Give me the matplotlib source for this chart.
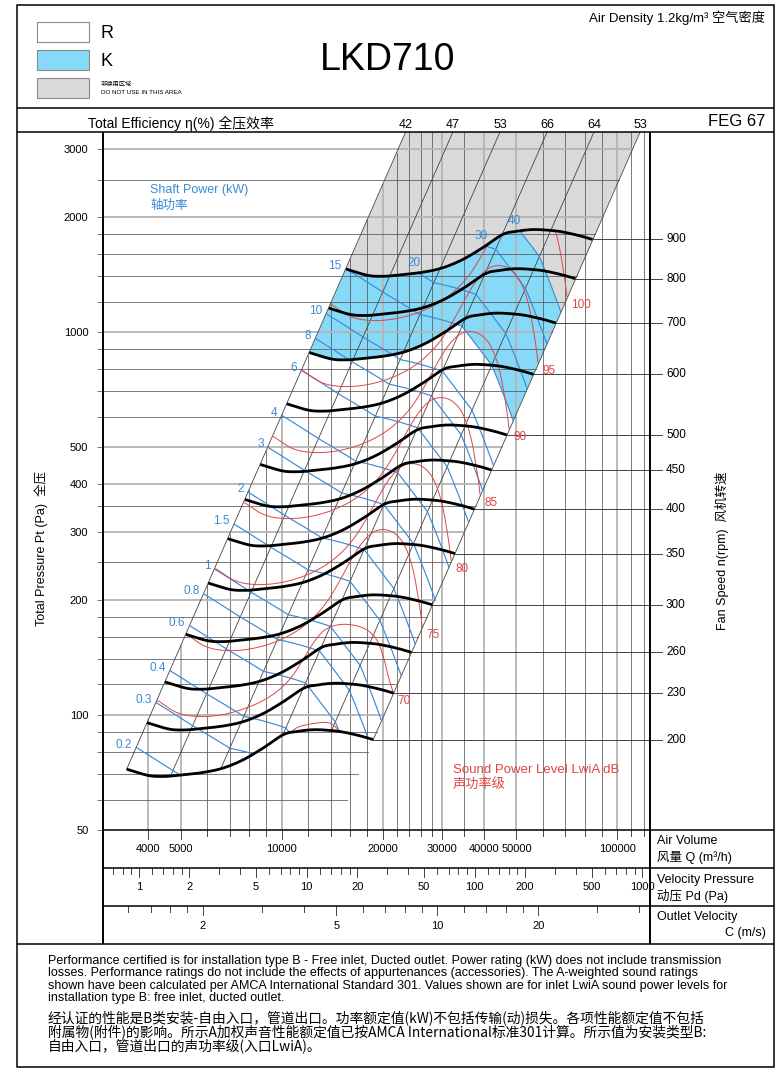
import numpy as np
import matplotlib.pyplot as plt
from matplotlib.patches import Rectangle, Polygon

plt.rcParams['font.family'] = ['Liberation Sans', 'Noto Sans CJK SC']

W, H = 776, 1072

# fan curve at 200 rpm: air volume (m3/h) and total pressure (Pa)
base_rpm = 200
base_q = [3451, 4003, 4436, 4863, 5837, 6694, 7681, 8808, 10100, 11080, 12410, 13920, 15250, 17100, 18730]
base_p = [72.1, 69.4, 69.0, 69.4, 70.7, 72.6, 76.3, 81.9, 88.7, 90.4, 91.4, 91.0, 90.1, 88.1, 86.1]
rpm_values = [200, 230, 260, 300, 350, 400, 450, 500, 600, 700, 800, 900]

# efficiency lines: air volume where each crosses 3000 Pa, and the efficiency (%)
eff_q3000 = [22200, 30700, 42400, 58600, 80800, 110900]
eff_values = [42, 47, 53, 66, 64, 53]

power_kw = [0.2, 0.3, 0.4, 0.6, 0.8, 1, 1.5, 2, 3, 4, 6, 8, 10, 15, 20, 30, 40]

# sound power contours (dB): 75 dB as read, higher levels follow the fan laws
sound_db = [75, 80, 85, 90, 95, 100]
sound75_q = [5171, 5930, 6805, 7982, 9367, 10741, 12045, 13354, 14597, 15854, 17085, 18427,
             19744, 21292, 22792, 23914, 24756, 25439, 25878, 26195]
sound75_p = [162.7, 150.8, 147.2, 148.4, 153.9, 162.7, 174.9, 192.6, 217.3, 247.9, 276.2, 297.0,
             304.3, 300.6, 284.6, 260.3, 233.5, 204.5, 185.8, 170.0]
db_per_decade = 58
# lower contours read on their own
sound70_q = [4240, 4863, 5580, 6545, 7681, 8808, 9877, 10820, 11720, 12560, 13450, 14730,
             16330, 17900, 19170, 20060, 20760, 21480]
sound70_p = [109.4, 101.4, 99.0, 99.8, 103.5, 109.0, 116.7, 127.2, 142.0, 156.1, 166.7, 171.8,
             171.5, 166.7, 157.0, 142.0, 125.9, 114.3]
sound65_q = [10579, 11330, 12700, 13920, 14910]
sound65_p = [90.0, 93.2, 95.1, 95.1, 90.4]

# class limits (rpm, kW)
r_limit = (700, 15)
k_limit = (900, 40)

p_grid = [60, 70, 80, 90, 100, 120, 140, 160, 180, 200, 250, 300, 350, 400, 500, 600, 700,
          800, 900, 1000, 1200, 1400, 1600, 1800, 2000, 2500, 3000]
p_labels = [50, 100, 200, 300, 400, 500, 1000, 2000, 3000]
q_grid = [4000, 5000, 6000, 7000, 8000, 9000, 10000, 12000, 14000, 16000, 18000, 20000, 22000,
          24000, 26000, 28000, 30000, 35000, 40000, 50000, 60000, 70000, 80000, 90000, 100000,
          110000, 120000]
q_labels = [4000, 5000, 10000, 20000, 30000, 40000, 50000, 100000]
pd_ticks = [0.7, 0.8, 0.9, 1, 1.2, 1.4, 1.6, 1.8, 2, 3, 4, 5, 6, 7, 8, 9, 10, 12, 14, 16, 18, 20,
            30, 40, 50, 60, 70, 80, 90, 100, 120, 140, 160, 180, 200, 300, 400, 500, 600, 700,
            800, 900, 1000]
pd_labels = [1, 2, 5, 10, 20, 50, 100, 200, 500, 1000]
c_ticks = [1.2, 1.4, 1.6, 1.8, 2, 3, 4, 5, 6, 7, 8, 9, 10, 12, 14, 16, 18, 20, 30, 40]
c_labels = [2, 5, 10, 20]
outlet_area = 0.807   # m2
air_density = 1.2

q_lim = (2934, 124980)
p_lim = (50, 3328)

BLUE = '#3a8ad6'
RED = '#e04545'
FILL_K = '#86daf8'
FILL_X = '#d9d9d9'


def frac(l, t, r, b):
    return [l / W, 1 - b / H, (r - l) / W, (b - t) / H]


def smooth(x, y, per=16):
    # Catmull-Rom through the read points
    pts = np.column_stack([x, y])
    ext = np.vstack([2 * pts[0] - pts[1], pts, 2 * pts[-1] - pts[-2]])
    t = np.linspace(0, 1, per, endpoint=False)[:, None]
    out = []
    for i in range(1, len(ext) - 2):
        a, b, c, d = ext[i - 1], ext[i], ext[i + 1], ext[i + 2]
        out.append(0.5 * (2 * b + (c - a) * t + (2 * a - 5 * b + 4 * c - d) * t ** 2
                          + (3 * b - a - 3 * c + d) * t ** 3))
    out.append(pts[-1:])
    return np.vstack(out)


lq, lp = smooth(np.log10(base_q), np.log10(base_p)).T
q0, p0 = 10 ** lq, 10 ** lp
logk = lp - 2 * lq
s = np.arange(len(lq), dtype=float)

eff_logk = np.log10(3000) - 2 * np.log10(eff_q3000)
eta = np.interp(-logk, -eff_logk, eff_values) / 100
w0 = q0 / 3600 * p0 / eta / 1000      # shaft power at 200 rpm, kW


def on_curve(n, qq=q0, pp=p0):
    r = np.asarray(n) / base_rpm
    return qq * r, pp * r ** 2


def speed_for_power(w):
    return base_rpm * (w / w0) ** (1 / 3)


def to_base(cq, cp):
    # for points of a contour: matching point of the 200 rpm curve and the speed
    lqc, lpc = smooth(np.log10(cq), np.log10(cp), per=10).T
    sc = np.interp(-(lpc - 2 * lqc), -logk, s)
    qb = 10 ** np.interp(sc, s, lq)
    return qb, 10 ** np.interp(sc, s, lp), base_rpm * 10 ** lqc / qb


fig = plt.figure(figsize=(W / 100, H / 100), dpi=100)

ax = fig.add_axes(frac(103, 132, 650, 830))
ax.set_xscale('log')
ax.set_yscale('log')
ax.set_xlim(*q_lim)
ax.set_ylim(*p_lim)
ax.patch.set_alpha(0)
for sp in ax.spines.values():
    sp.set_visible(False)
ax.set_xticks([])
ax.set_xticks([], minor=True)
yt = [50] + p_grid
ax.set_yticks(yt, labels=[str(v) if v in p_labels else '' for v in yt])
ax.set_yticks([], minor=True)
ax.tick_params(axis='y', length=4.5, width=0.7, color='#777', pad=6, labelsize=8)

# class regions
n_min, n_max = rpm_values[0], rpm_values[-1]
n_k = np.minimum(k_limit[0], speed_for_power(k_limit[1]))
n_r = np.minimum(r_limit[0], speed_for_power(r_limit[1]))
n_sky = base_rpm * np.sqrt(p_lim[1] * 1.5 / p0)
pk = np.column_stack(on_curve(n_k))
pr = np.column_stack(on_curve(n_r))
psky = np.column_stack(on_curve(n_sky))
ax.add_patch(Polygon(np.vstack([pr, pk[::-1]]), closed=True, fc=FILL_K, ec='none', zorder=1))
ax.add_patch(Polygon(np.vstack([pk, psky[::-1]]), closed=True, fc=FILL_X, ec='none', zorder=1))

# grid
k_left = p0[0] / q0[0] ** 2
k_right = p0[-1] / q0[-1] ** 2
for q in q_grid:
    top = min(p_lim[1], k_left * q ** 2)
    if q in q_labels:
        ax.plot([q, q], [p_lim[0], top], color='#b4b4b4', lw=1.3, zorder=2)
    else:
        ax.plot([q, q], [p_lim[0], top], color='#555', lw=0.55, zorder=2)
for p in p_grid:
    right = min(q_lim[1], np.sqrt(p / k_right))
    if p in p_labels:
        ax.plot([q_lim[0], right], [p, p], color='#b4b4b4', lw=1.3, zorder=2)
    else:
        ax.plot([q_lim[0], right], [p, p], color='#555', lw=0.55, zorder=2)

# efficiency lines
for ek, ev in zip(eff_logk, eff_values):
    si = np.interp(-ek, -logk, s)
    qb, pb = 10 ** np.interp(si, s, lq), 10 ** np.interp(si, s, lp)
    qt = np.sqrt(p_lim[1] / 10 ** ek)
    ax.plot([qb, qt], [pb, p_lim[1]], color='#444', lw=0.6, zorder=3)
    ax.text(qt, 1.0105, str(ev), transform=ax.get_xaxis_transform(), ha='center',
            va='center', fontsize=9, clip_on=False)


def clipped(n):
    ok = (n >= n_min - 0.01) & (n <= n_max + 0.01)
    ext = ok.copy()
    ext[1:] |= ok[:-1]
    ext[:-1] |= ok[1:]
    return ext, np.clip(n, n_min, n_max)


# shaft power lines
for w in power_kw:
    n = speed_for_power(w)
    ok, nc = clipped(n)
    qq, pp = on_curve(nc)
    ax.plot(np.where(ok, qq, np.nan), np.where(ok, pp, np.nan), color=BLUE, lw=0.85, zorder=4)
    i = np.flatnonzero(ok)[0]
    lab = f'{w:g}'
    if i == 0:
        ax.annotate(lab, (qq[i], pp[i]), xytext=(-3, 2), textcoords='offset points',
                    ha='right', va='center', color=BLUE, fontsize=8.5, zorder=6)
    else:
        ax.annotate(lab, (qq[i], pp[i]), xytext=(-3, 3), textcoords='offset points',
                    ha='center', va='bottom', color=BLUE, fontsize=8.5, zorder=6)


# sound power contours
def draw_sound(qb, pb, n, label=None):
    ok, nc = clipped(n)
    if not ok.any():
        return
    qq, pp = on_curve(nc, qb, pb)
    ax.plot(np.where(ok, qq, np.nan), np.where(ok, pp, np.nan), color=RED, lw=0.7, zorder=4)
    if label:
        ax.annotate(label, (qq[-1], pp[-1]), xytext=(3, -1.5), textcoords='offset points',
                    ha='left', va='top', color=RED, fontsize=8.5, zorder=6)


qb75, pb75, n75 = to_base(sound75_q, sound75_p)
for db in sound_db:
    draw_sound(qb75, pb75, n75 * 10 ** ((db - 75) / db_per_decade), str(db))
draw_sound(*to_base(sound70_q, sound70_p), '70')
draw_sound(*to_base(sound65_q, sound65_p))

# fan speed curves and their lines to the right scale
q_tick = q_lim[1] * 10 ** (12 / 335.7)
q_text = q_lim[1] * 10 ** (16 / 335.7)
for n in rpm_values:
    qq, pp = on_curve(n)
    ax.plot(qq, pp, color='k', lw=2.0, zorder=5, solid_capstyle='butt')
    ax.plot([qq[-1], q_tick], [pp[-1], pp[-1]], color='#444', lw=0.7, zorder=3, clip_on=False)
    ax.text(q_text, pp[-1], str(n), ha='left', va='center', fontsize=8.5, clip_on=False)


# scales under the chart
def scale_panel(top, lim, ticks, labels, ylab):
    pax = fig.add_axes(frac(103, top, 650, top + 38))
    pax.set_xscale('log')
    pax.set_xlim(*lim)
    pax.set_ylim(0, 1)
    pax.axis('off')
    tr = pax.get_xaxis_transform()
    for v in ticks:
        ln = 9 / 38 if v in labels else 6 / 38
        pax.plot([v, v], [1, 1 - ln], color='#444', lw=0.7, transform=tr)
    for v in labels:
        pax.text(v, ylab, f'{v:g}', transform=tr, ha='center', va='center', fontsize=8)


vel_lim = tuple(q / 3600 / outlet_area for q in q_lim)
pd_lim = tuple(0.5 * air_density * v ** 2 for v in vel_lim)
scale_panel(830, q_lim, q_grid, q_labels, 0.5)
scale_panel(868, pd_lim, pd_ticks, pd_labels, 0.5)
scale_panel(906, vel_lim, c_ticks, c_labels, 0.47)

# frame, header and texts (pixel coordinates)
ov = fig.add_axes([0, 0, 1, 1])
ov.set_xlim(0, W)
ov.set_ylim(H, 0)
ov.axis('off')


def seg(x0, y0, x1, y1, lw=1.1):
    ov.plot([x0, x1], [y0, y1], color='k', lw=lw, solid_capstyle='butt')


ov.add_patch(Rectangle((17, 5), 757, 1062, fill=False, ec='k', lw=1.1))
seg(17, 108, 774, 108)
seg(17, 132, 774, 132)
seg(103, 132, 103, 944, 1.4)
seg(650, 132, 650, 944, 1.4)
seg(103, 830, 774, 830)
seg(103, 868, 774, 868)
seg(103, 906, 774, 906)
seg(17, 944, 774, 944)

ov.add_patch(Rectangle((37, 22), 52, 20, fc='white', ec='#888', lw=0.8))
ov.add_patch(Rectangle((37, 50), 52, 20, fc=FILL_K, ec='#888', lw=0.8))
ov.add_patch(Rectangle((37, 78), 52, 20, fc=FILL_X, ec='#888', lw=0.8))
ov.text(101, 33, 'R', fontsize=13, va='center')
ov.text(101, 61, 'K', fontsize=13, va='center')
ov.text(101, 84, '非使用区域', fontsize=4.5, va='center')
ov.text(101, 93, 'DO NOT USE IN THIS AREA', fontsize=4.5, va='center')
ov.text(388, 60, 'LKD710', fontsize=27, ha='center', va='center')
ov.text(765, 18, 'Air Density 1.2kg/m³ 空气密度', fontsize=9.5, ha='right', va='center')

ov.text(88, 123, 'Total Efficiency η(%) 全压效率', fontsize=10, va='center')
ov.text(765, 122, 'FEG 67', fontsize=12, ha='right', va='center')

ov.text(41, 548, 'Total Pressure Pt (Pa)  全压', fontsize=9, rotation=90, ha='center', va='center')
ov.text(722, 551, 'Fan Speed n(rpm)  风机转速', fontsize=9, rotation=90, ha='center', va='center')

ov.text(150, 190, 'Shaft Power (kW)', fontsize=9, color=BLUE, va='center')
ov.text(150, 206, '轴功率', fontsize=9, color=BLUE, va='center')
ov.text(453, 770, 'Sound Power Level LwiA dB', fontsize=9.5, color=RED, va='center')
ov.text(453, 785, '声功率级', fontsize=9.5, color=RED, va='center')

ov.text(657, 841, 'Air Volume', fontsize=9, va='center')
ov.text(657, 857, '风量 Q (m³/h)', fontsize=9, va='center')
ov.text(657, 880, 'Velocity Pressure', fontsize=9, va='center')
ov.text(657, 896, '动压 Pd (Pa)', fontsize=9, va='center')
ov.text(657, 917, 'Outlet Velocity', fontsize=9, va='center')
ov.text(766, 933, 'C (m/s)', fontsize=9, ha='right', va='center')

eng = ['Performance certified is for installation type B - Free inlet, Ducted outlet. Power rating (kW) does not include transmission',
       'losses. Performance ratings do not include the effects of appurtenances (accessories). The A-weighted sound ratings',
       'shown have been calculated per AMCA International Standard 301. Values shown are for inlet LwiA sound power levels for',
       'installation type B: free inlet, ducted outlet.']
for i, line in enumerate(eng):
    ov.text(48, 961 + 12.4 * i, line, fontsize=9, va='center')
chn = ['经认证的性能是B类安装-自由入口，管道出口。功率额定值(kW)不包括传输(动)损失。各项性能额定值不包括',
       '附属物(附件)的影响。所示A加权声音性能额定值已按AMCA International标准301计算。所示值为安装类型B:',
       '自由入口，管道出口的声功率级(入口LwiA)。']
for i, line in enumerate(chn):
    ov.text(48, 1018 + 14 * i, line, fontsize=9.9, va='center',
            family=['Noto Sans CJK SC', 'Liberation Sans'])

fig.savefig('out.png', dpi=100)
